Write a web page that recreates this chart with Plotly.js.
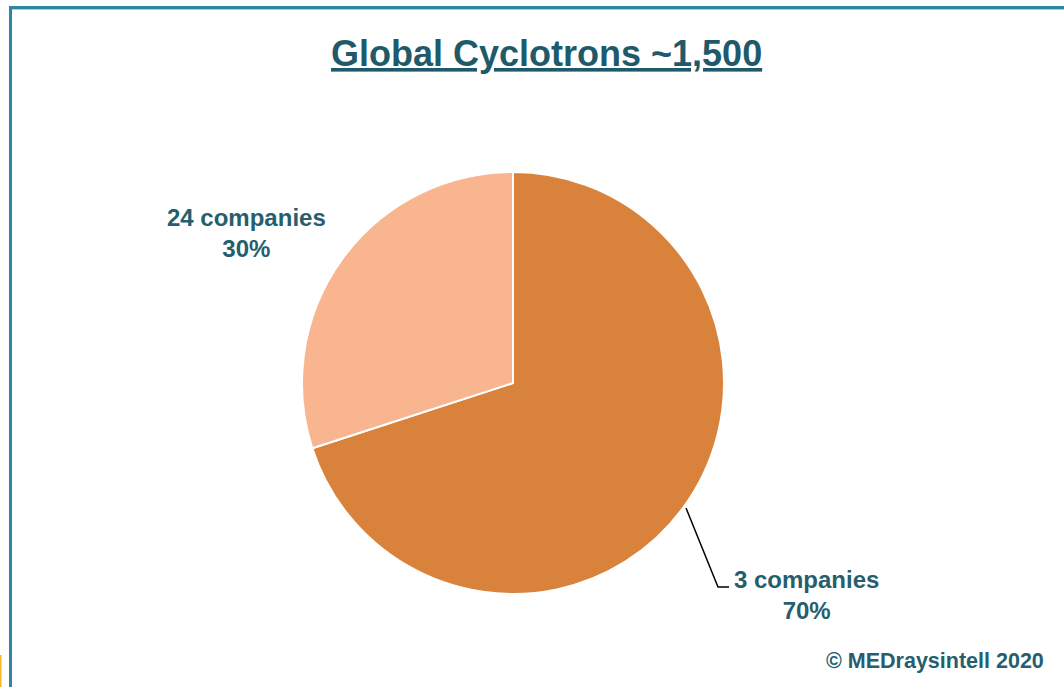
<!DOCTYPE html>
<html>
<head>
<meta charset="utf-8">
<script src="https://cdn.plot.ly/plotly-3.0.1.min.js"></script>
<style>html,body{margin:0;padding:0;background:#fff;}#chart{width:1064px;height:687px;}</style>
</head>
<body>
<div id="chart"></div>
<script>
const categories = ['3 companies', '24 companies'];
const shares = [70, 30];
const sliceColors = ['#D9823C', '#F8B590'];
const titleText = 'Global Cyclotrons ~1,500';
const creditText = '© MEDraysintell 2020';

const W = 1064, H = 687;
const px = x => x / W;
const py = y => 1 - y / H;

const textColor = '#265E6D';
const labelFont = {family: 'Liberation Sans, Arial, sans-serif', size: 24, color: textColor};

const trace = {
  type: 'pie',
  labels: categories,
  values: shares,
  sort: false,
  direction: 'clockwise',
  rotation: 0,
  marker: {colors: sliceColors, line: {color: '#ffffff', width: 2}},
  textinfo: 'none',
  hoverinfo: 'none',
  showlegend: false,
  domain: {x: [px(301), px(725)], y: [py(594), py(172)]}
};

const labelPos = [
  {x: 806, y: 595},
  {x: 246, y: 233}
];

const annotations = categories.map((c, i) => ({
  xref: 'paper', yref: 'paper',
  x: px(labelPos[i].x), y: py(labelPos[i].y),
  xanchor: 'center', yanchor: 'middle',
  text: '<b>' + c + '<br>' + shares[i] + '%</b>',
  showarrow: false,
  align: 'center',
  font: labelFont
}));

annotations.push({
  xref: 'paper', yref: 'paper',
  x: px(546), y: py(54),
  xanchor: 'center', yanchor: 'middle',
  text: '<b><u>' + titleText + '</u></b>',
  showarrow: false,
  font: {family: 'Liberation Sans, Arial, sans-serif', size: 36, color: '#1F5A6A'}
});

annotations.push({
  xref: 'paper', yref: 'paper',
  x: px(1046), y: py(661),
  xanchor: 'right', yanchor: 'middle',
  text: '<b>' + creditText + '</b>',
  showarrow: false,
  font: {family: 'Liberation Sans, Arial, sans-serif', size: 21.5, color: textColor}
});

const shapes = [
  {type: 'rect', xref: 'paper', yref: 'paper', x0: px(9), x1: 1, y0: py(9), y1: py(6), fillcolor: '#2E86A0', line: {width: 0}, layer: 'above'},
  {type: 'rect', xref: 'paper', yref: 'paper', x0: px(12), x1: 1, y0: py(10), y1: py(9), fillcolor: '#A9CFDD', line: {width: 0}, layer: 'above'},
  {type: 'rect', xref: 'paper', yref: 'paper', x0: px(9), x1: px(12), y0: 0, y1: py(6), fillcolor: '#2E86A0', line: {width: 0}, layer: 'above'},
  {type: 'rect', xref: 'paper', yref: 'paper', x0: 0, x1: px(1.5), y0: 0, y1: py(655), fillcolor: '#F5B82E', line: {width: 0}, layer: 'above'},
  {type: 'path', xref: 'paper', yref: 'paper',
   path: 'M ' + px(686) + ' ' + py(508) + ' L ' + px(718) + ' ' + py(587) + ' L ' + px(729) + ' ' + py(587),
   line: {color: '#000000', width: 1.5}, layer: 'above'}
];

const layout = {
  width: W, height: H,
  margin: {l: 0, r: 0, t: 0, b: 0},
  paper_bgcolor: '#ffffff',
  plot_bgcolor: '#ffffff',
  annotations: annotations,
  shapes: shapes
};

Plotly.newPlot('chart', [trace], layout, {displayModeBar: false, staticPlot: true});
</script>
</body>
</html>
